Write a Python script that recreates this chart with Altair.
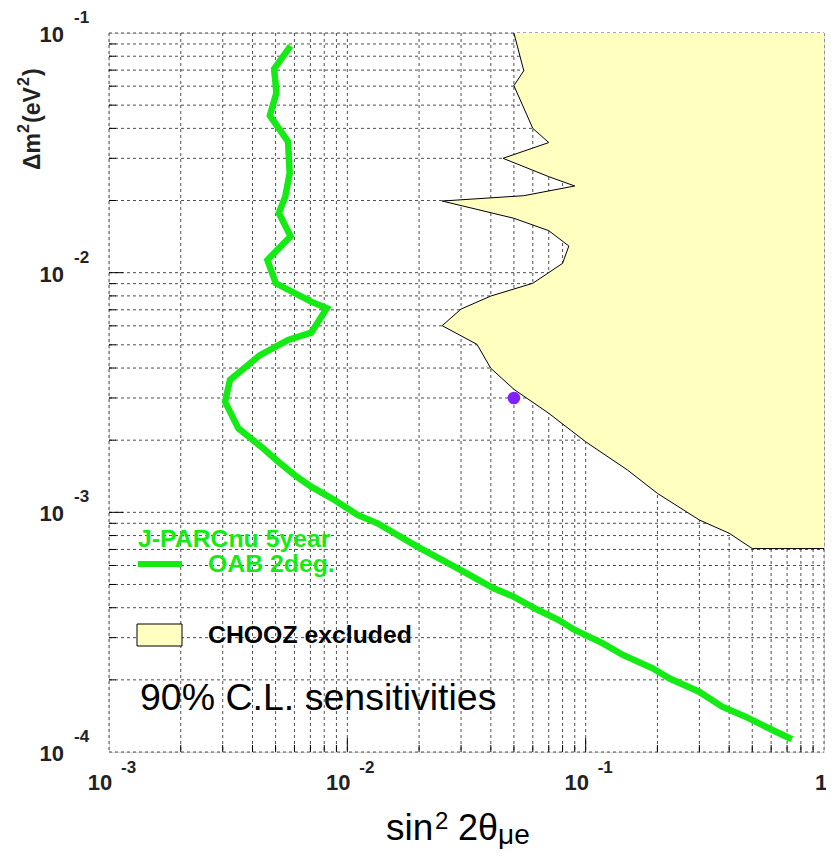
import altair as alt
import pandas as pd

# ---------------- data ----------------
# J-PARCnu 5 year, OAB 2deg. 90% C.L. sensitivity curve
sens_x = [5.78e-3, 4.93e-3, 5.04e-3, 4.73e-3, 5.64e-3, 5.73e-3, 5.49e-3, 5.16e-3,
          5.78e-3, 4.62e-3, 5.01e-3, 7.05e-3, 8.20e-3, 7.05e-3, 5.64e-3, 4.30e-3,
          3.22e-3, 3.07e-3, 3.49e-3, 4.43e-3, 5.12e-3, 6.01e-3, 7.05e-3, 8.83e-3,
          0.01104, 0.01338, 0.01966, 0.0298, 0.0411, 0.0498, 0.0622, 0.0767,
          0.0899, 0.1181, 0.1432, 0.191, 0.224, 0.299, 0.374, 0.468, 0.586, 0.733]
sens_y = [0.0883, 0.0708, 0.0562, 0.0452, 0.0352, 0.0260, 0.02075, 0.01774,
          0.01418, 0.01129, 9.03e-3, 7.57e-3, 7.10e-3, 5.62e-3, 5.24e-3, 4.53e-3,
          3.57e-3, 2.89e-3, 2.24e-3, 1.85e-3, 1.63e-3, 1.43e-3, 1.28e-3, 1.126e-3,
          9.75e-4, 9.0e-4, 7.19e-4, 5.75e-4, 4.82e-4, 4.45e-4, 3.94e-4, 3.56e-4,
          3.23e-4, 2.84e-4, 2.54e-4, 2.235e-4, 2.03e-4, 1.785e-4, 1.545e-4,
          1.404e-4, 1.256e-4, 1.13e-4]

# CHOOZ excluded region boundary (region extends to sin^2 2theta = 1)
chooz_x = [0.050, 0.055, 0.050, 0.060, 0.070, 0.045, 0.070, 0.090, 0.055, 0.025,
           0.050, 0.070, 0.085, 0.080, 0.060, 0.040, 0.030, 0.025, 0.035, 0.040,
           0.050, 0.070, 0.100, 0.150, 0.200, 0.300, 0.400, 0.500, 1.0]
chooz_y = [0.1, 0.0696, 0.0603, 0.0400, 0.0349, 0.0300, 0.02515, 0.0230, 0.02095,
           0.0199, 0.01686, 0.01497, 0.01292, 0.01094, 9.03e-3, 7.99e-3, 7.05e-3,
           6.01e-3, 5.02e-3, 3.99e-3, 3.26e-3, 2.59e-3, 1.97e-3, 1.50e-3, 1.20e-3,
           9.29e-4, 8.18e-4, 7.06e-4, 7.06e-4]

# marked point
point_x = [0.05]
point_y = [3.0e-3]

# grid / tick values
x_decades = [1e-3, 1e-2, 1e-1]
y_decades = [1e-4, 1e-3, 1e-2]
x_majors = [1e-3, 1e-2, 1e-1, 1.0]
y_majors = [1e-4, 1e-3, 1e-2, 1e-1]
x_exps = ["-3", "-2", "-1"]
y_exps = ["-4", "-3", "-2", "-1"]

# ---------------- layout ----------------
W, H = 715, 719
FONT = "Liberation Sans"
GREEN = "#14eb14"
YELLOW = "#ffffc0"
PURPLE = "#7f22ff"

xs = alt.Scale(type="log", domain=[1e-3, 1.0])
ys = alt.Scale(type="log", domain=[1e-4, 1e-1])

grid_x = [round(m * d, 10) for d in x_decades for m in range(1, 10)] + [1.0]
grid_y = [round(m * d, 10) for d in y_decades for m in range(1, 10)] + [1e-1]

gx = pd.DataFrame({"x": grid_x, "major": [v in x_majors for v in grid_x]})
gy = pd.DataFrame({"y": grid_y, "major": [v in y_majors for v in grid_y]})

vgrid = alt.Chart(gx).mark_rule(color="#222", strokeWidth=1, strokeDash=[3, 3], opacity=0.8).encode(
    x=alt.X("x:Q", scale=xs, axis=None), y=alt.value(0), y2=alt.value(H))
hgrid = alt.Chart(gy).mark_rule(color="#222", strokeWidth=1, strokeDash=[3, 3], opacity=0.8).encode(
    y=alt.Y("y:Q", scale=ys, axis=None), x=alt.value(0), x2=alt.value(W))

chooz = pd.DataFrame({"x": chooz_x, "y": chooz_y, "x2": [1.0] * len(chooz_x),
                      "o": list(range(len(chooz_x)))})
area = alt.Chart(chooz).mark_area(orient="horizontal", color=YELLOW, opacity=1).encode(
    y=alt.Y("y:Q", scale=ys, axis=None),
    x=alt.X("x:Q", scale=xs, axis=None),
    x2="x2:Q")
edge = alt.Chart(chooz).mark_line(color="black", strokeWidth=1).encode(
    x=alt.X("x:Q", scale=xs, axis=None), y=alt.Y("y:Q", scale=ys, axis=None), order="o:Q")

# inner ticks
gx_in = gx[(gx.x > 1e-3) & (gx.x < 1.0)]
gy_in = gy[(gy.y > 1e-4) & (gy.y < 1e-1)]
xt_min = alt.Chart(gx_in[~gx_in.major]).mark_rule(color="black", strokeWidth=1).encode(
    x=alt.X("x:Q", scale=xs, axis=None), y=alt.value(H), y2=alt.value(H - 7))
xt_maj = alt.Chart(gx_in[gx_in.major]).mark_rule(color="black", strokeWidth=1).encode(
    x=alt.X("x:Q", scale=xs, axis=None), y=alt.value(H), y2=alt.value(H - 14))
yt_min = alt.Chart(gy_in[~gy_in.major]).mark_rule(color="black", strokeWidth=1).encode(
    y=alt.Y("y:Q", scale=ys, axis=None), x=alt.value(0), x2=alt.value(7))
yt_maj = alt.Chart(gy_in[gy_in.major]).mark_rule(color="black", strokeWidth=1).encode(
    y=alt.Y("y:Q", scale=ys, axis=None), x=alt.value(0), x2=alt.value(14))

sens = pd.DataFrame({"x": sens_x, "y": sens_y, "o": list(range(len(sens_x)))})
curve = alt.Chart(sens).mark_line(color=GREEN, strokeWidth=6.5, strokeJoin="miter", strokeCap="butt").encode(
    x=alt.X("x:Q", scale=xs, axis=None), y=alt.Y("y:Q", scale=ys, axis=None), order="o:Q")

dot = alt.Chart(pd.DataFrame({"x": point_x, "y": point_y})).mark_circle(
    color=PURPLE, size=160, opacity=1).encode(
    x=alt.X("x:Q", scale=xs, axis=None), y=alt.Y("y:Q", scale=ys, axis=None))

# axis labels
xl = pd.DataFrame({"x": x_decades, "e": x_exps})
xlab10 = alt.Chart(xl).mark_text(font=FONT, fontSize=22, fontWeight="bold", align="center",
                                 baseline="alphabetic", dx=-9, color="#222").encode(
    x=alt.X("x:Q", scale=xs, axis=None), y=alt.value(H + 38), text=alt.value("10"))
xlabe = alt.Chart(xl).mark_text(font=FONT, fontSize=17, fontWeight="bold", align="left",
                                baseline="alphabetic", dx=12, color="#222").encode(
    x=alt.X("x:Q", scale=xs, axis=None), y=alt.value(H + 21), text="e:N")
xlab1 = alt.Chart(pd.DataFrame({"x": [1.0]})).mark_text(font=FONT, fontSize=22, fontWeight="bold",
                                                         align="center", baseline="alphabetic",
                                                         dx=-3, color="#222").encode(
    x=alt.X("x:Q", scale=xs, axis=None), y=alt.value(H + 38), text=alt.value("1"))

yl = pd.DataFrame({"y": y_majors, "e": y_exps})
ylab10 = alt.Chart(yl).mark_text(font=FONT, fontSize=22, fontWeight="bold", align="right",
                                 baseline="alphabetic", dy=9, color="#222").encode(
    y=alt.Y("y:Q", scale=ys, axis=None), x=alt.value(-45), text=alt.value("10"))
ylabe = alt.Chart(yl).mark_text(font=FONT, fontSize=17, fontWeight="bold", align="left",
                                baseline="alphabetic", dy=-10, color="#222").encode(
    y=alt.Y("y:Q", scale=ys, axis=None), x=alt.value(-35), text="e:N")

one = pd.DataFrame({"a": [0]})


def label(txt, x, y, size, weight="normal", color="black", align="left", angle=0):
    kw = dict(font=FONT, fontSize=size, fontWeight=weight, color=color, align=align,
              baseline="alphabetic")
    if angle:
        kw["angle"] = angle
    return alt.Chart(one).mark_text(**kw).encode(
        x=alt.value(x), y=alt.value(y), text=alt.value(txt))


# y title: Δm^2(eV^2), rotated, reading upward
yt1 = label("Δm", -69, 137, 23, "bold", "#222", "left", 270)
yt2 = label("2", -80, 100, 16, "bold", "#222", "left", 270)
yt3 = label("(eV", -69, 90, 23, "bold", "#222", "left", 270)
yt4 = label("2", -80, 53, 16, "bold", "#222", "left", 270)
yt5 = label(")", -69, 43, 23, "bold", "#222", "left", 270)

# x title: sin^2 2θ_μe
xt1 = label("sin", 277, 807, 37)
xt2 = label("2", 326, 796, 24)
xt3 = label("2θ", 349, 807, 36)
xt4 = label("μe", 389, 811, 28)

leg1 = label("J-PARCnu 5year", 29, 514, 24.8, "bold", GREEN)
leg_line = alt.Chart(one).mark_rule(color=GREEN, strokeWidth=6).encode(
    x=alt.value(29), x2=alt.value(73), y=alt.value(531))
leg2 = label("OAB 2deg.", 99, 539, 24.8, "bold", GREEN)
leg_box = alt.Chart(one).mark_rect(fill=YELLOW, stroke="black", strokeWidth=1).encode(
    x=alt.value(28), x2=alt.value(73), y=alt.value(591), y2=alt.value(613))
leg3 = label("CHOOZ excluded", 99, 610, 24.8, "bold", "black")
leg4 = label("90% C.L. sensitivities", 31, 677, 37.5, "normal", "black")

chart = alt.layer(
    vgrid, hgrid, area, edge, xt_min, xt_maj, yt_min, yt_maj, curve, dot,
    xlab10, xlabe, xlab1, ylab10, ylabe, yt1, yt2, yt3, yt4, yt5, xt1, xt2, xt3, xt4,
    leg1, leg_line, leg2, leg_box, leg3, leg4,
).properties(
    width=W, height=H,
    autosize=alt.AutoSizeParams(type="none"),
    padding={"left": 101, "top": 25, "right": 2, "bottom": 97},
).configure_view(stroke="black", strokeWidth=2).configure(background="white")

chart.save("out.html", embed_options={"renderer": "svg", "actions": False})
